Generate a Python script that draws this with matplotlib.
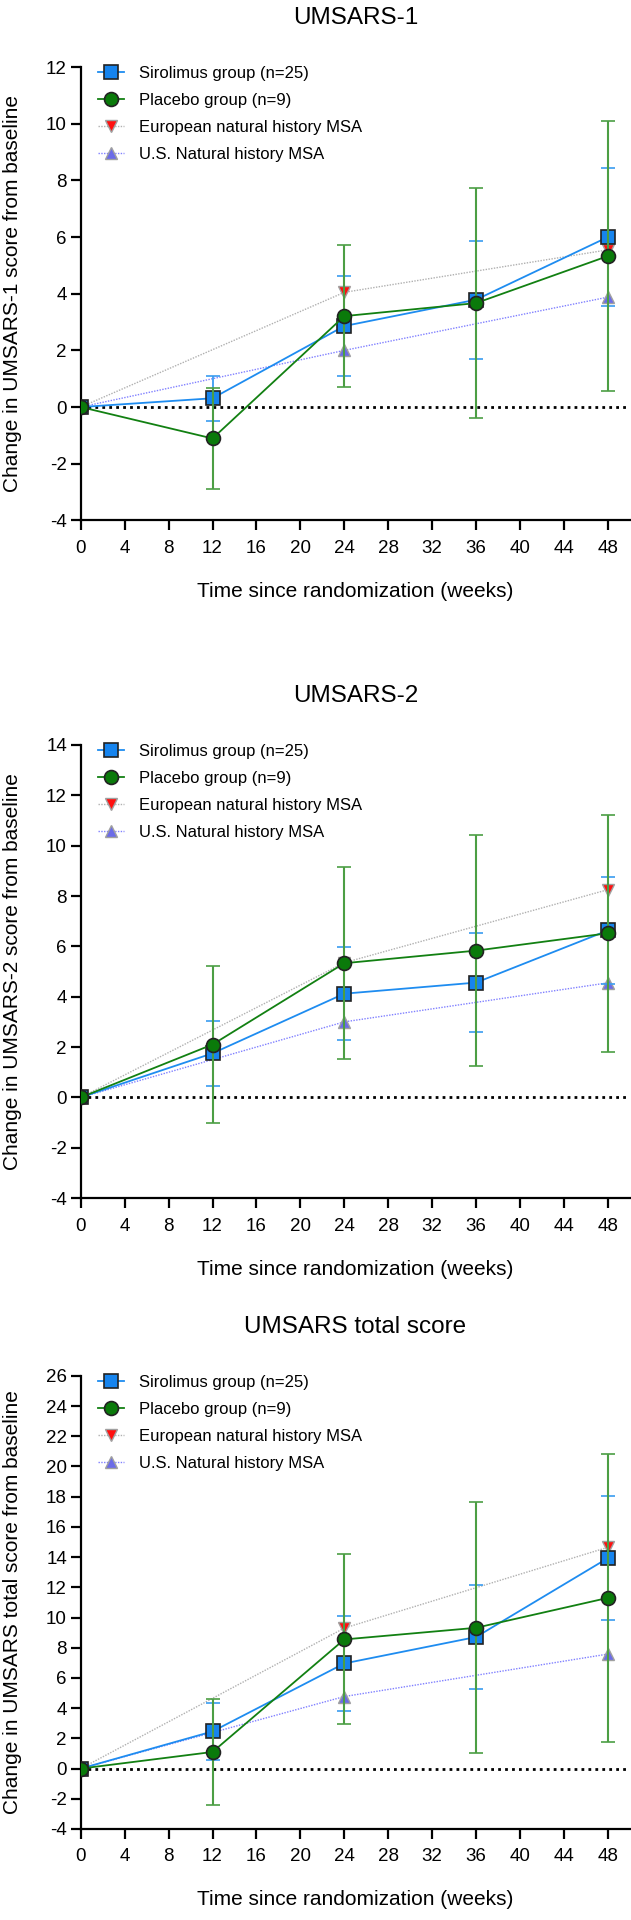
import matplotlib
matplotlib.use("Agg")
import matplotlib.pyplot as plt

plt.rcParams['font.family'] = ['Liberation Sans', 'DejaVu Sans']
plt.rcParams['axes.unicode_minus'] = False

weeks = [0, 12, 24, 36, 48]
nh_weeks = [0, 24, 48]

titles = ["UMSARS-1", "UMSARS-2", "UMSARS total score"]
ylabels = ["Change in UMSARS-1 score from baseline",
           "Change in UMSARS-2 score from baseline",
           "Change in UMSARS total score from baseline"]
ylims = [(-4, 12), (-4, 14), (-4, 26)]

# UMSARS-1
siro_1 = [0, 0.31, 2.86, 3.79, 6.0]
siro_1_err = [0, 0.8, 1.78, 2.08, 2.43]
plac_1 = [0, -1.11, 3.21, 3.67, 5.33]
plac_1_err = [0, 1.78, 2.5, 4.07, 4.77]
eu_1 = [0, 4.05, 5.55]
us_1 = [0, 2.0, 3.88]

# UMSARS-2
siro_2 = [0, 1.75, 4.12, 4.56, 6.63]
siro_2_err = [0, 1.3, 1.85, 1.98, 2.12]
plac_2 = [0, 2.1, 5.33, 5.83, 6.52]
plac_2_err = [0, 3.13, 3.82, 4.6, 4.7]
eu_2 = [0, 5.35, 8.25]
us_2 = [0, 3.0, 4.55]

# UMSARS total
siro_t = [0, 2.46, 6.96, 8.71, 13.93]
siro_t_err = [0, 1.9, 3.15, 3.47, 4.1]
plac_t = [0, 1.1, 8.55, 9.32, 11.3]
plac_t_err = [0, 3.48, 5.63, 8.3, 9.55]
eu_t = [0, 9.3, 14.65]
us_t = [0, 4.77, 7.58]

panels = [(siro_1, siro_1_err, plac_1, plac_1_err, eu_1, us_1),
          (siro_2, siro_2_err, plac_2, plac_2_err, eu_2, us_2),
          (siro_t, siro_t_err, plac_t, plac_t_err, eu_t, us_t)]

fig = plt.figure(figsize=(6.31, 19.2), dpi=100)
bottoms = [0.729, 0.376, 0.0474]

for i, (s, se, p, pe, eu, us) in enumerate(panels):
    ax = fig.add_axes([0.128, bottoms[i], 0.87, 0.236])
    ax.axhline(0, color='black', linestyle=(0, (1, 1.5)), linewidth=2, zorder=1)

    # natural history reference lines
    eu_line, = ax.plot(nh_weeks, eu, linestyle=(0, (1, 1)), color='#b0b0b0', linewidth=1,
                       marker='v', markersize=9, markerfacecolor='#ff1010',
                       markeredgecolor='#a0a0a0', zorder=2)
    us_line, = ax.plot(nh_weeks, us, linestyle=(0, (1, 1)), color='#8080ff', linewidth=1,
                       marker='^', markersize=9, markerfacecolor='#6b6be8',
                       markeredgecolor='#a0a0a0', zorder=2)

    siro = ax.errorbar(weeks, s, yerr=se, color='#1e8cf0', linewidth=1.3,
                       ecolor='#3a9cf0', elinewidth=1.3, capsize=5, capthick=1.3,
                       marker='s', markersize=10, markerfacecolor='#1684ee',
                       markeredgecolor='#222222', markeredgewidth=1.2, zorder=3)
    plac = ax.errorbar(weeks, p, yerr=pe, color='#128012', linewidth=1.3,
                       ecolor='#4c9e44', elinewidth=1.5, capsize=5, capthick=1.5,
                       marker='o', markersize=10, markerfacecolor='#0a7a0a',
                       markeredgecolor='#222222', markeredgewidth=1.2, zorder=4)

    ax.set_xlim(0, 50)
    ax.set_ylim(*ylims[i])
    ax.set_xticks(range(0, 49, 4))
    ax.set_yticks(range(ylims[i][0], ylims[i][1] + 1, 2))
    ax.spines['top'].set_visible(False)
    ax.spines['right'].set_visible(False)
    ax.spines['left'].set_linewidth(1.6)
    ax.spines['bottom'].set_linewidth(1.6)
    ax.tick_params(width=1.6, length=7, labelsize=13.5, direction='out')
    ax.tick_params(axis='x', pad=7)
    ax.tick_params(axis='y', pad=3)
    ax.set_title(titles[i], fontsize=17.5, pad=31)
    ax.set_xlabel("Time since randomization (weeks)", fontsize=15, labelpad=18)
    ax.set_ylabel(ylabels[i], fontsize=15)
    ax.yaxis.set_label_coords(-0.107, 0.5)

    ax.legend([siro.lines[0], plac.lines[0], eu_line, us_line],
              ['Sirolimus group (n=25)', 'Placebo group (n=9)',
               'European natural history MSA', 'U.S. Natural history MSA'],
              loc='upper left', bbox_to_anchor=(0.031, 1.003), frameon=False,
              fontsize=12, borderaxespad=0, borderpad=0,
              handlelength=1.6, handletextpad=0.9, labelspacing=0.72)

fig.savefig("out.png", dpi=100)
